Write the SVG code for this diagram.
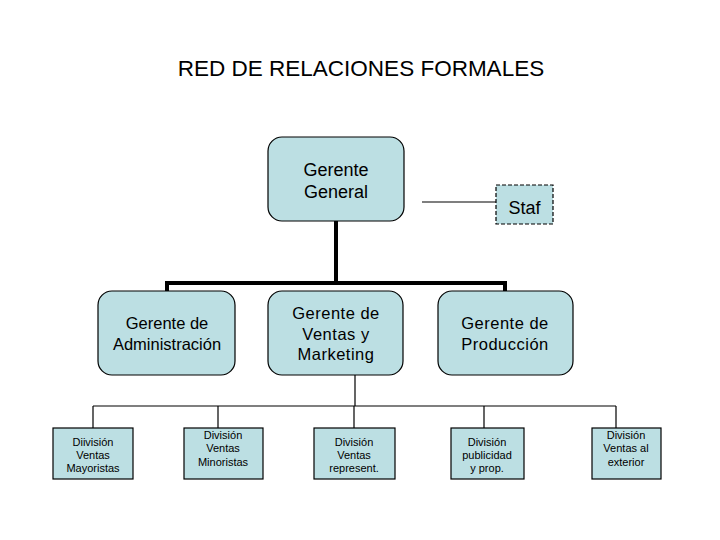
<svg xmlns="http://www.w3.org/2000/svg" width="720" height="540" viewBox="0 0 720 540">
<style>
.rbox{fill:#bcdfe3;stroke:#000;stroke-width:1.2}
.sbox{fill:#bcdfe3;stroke:#000;stroke-width:1.2}
.t{font-family:"Liberation Sans",Arial,sans-serif;fill:#000;text-anchor:middle}
.m{font-size:16.5px}
.s{font-size:11px}
.thick{stroke:#000;stroke-width:4;fill:none}
.thin{stroke:#000;stroke-width:1.2;fill:none}
</style>
<rect width="720" height="540" fill="#fff"/>
<text class="t" x="361" y="76" font-size="22.5">RED DE RELACIONES FORMALES</text>
<g id="connectors">
<path class="thick" d="M336 221 V283 M167 283 H505 M167 281 V291 M505 281 V291"/>
<path class="thin" d="M422 202 H496"/>
<path class="thin" d="M355 375 V406 M93 406 H616 M93 406 V428 M218 406 V428 M354 406 V428 M484 406 V428 M616 406 V428"/>
</g>
<g id="gerente-general">
<rect class="rbox" x="268" y="137" width="136" height="84" rx="14"/>
<text class="t" x="336" y="176" font-size="18">Gerente</text>
<text class="t" x="336" y="198" font-size="18">General</text>
</g>
<g id="staf">
<rect class="rbox" x="496" y="185" width="57" height="39" stroke-dasharray="4,2"/>
<text class="t" x="524.5" y="214" font-size="18">Staf</text>
</g>
<g id="gerente-admin">
<rect class="rbox" x="98" y="291" width="137" height="84" rx="14"/>
<text class="t m" x="167" y="329">Gerente de</text>
<text class="t m" x="167" y="350">Administración</text>
</g>
<g id="gerente-ventas">
<rect class="rbox" x="268" y="291" width="135" height="84" rx="14"/>
<text class="t m" x="336" y="319" letter-spacing="0.5">Gerente de</text>
<text class="t m" x="336" y="340" letter-spacing="0.5">Ventas y</text>
<text class="t m" x="336" y="360" letter-spacing="0.5">Marketing</text>
</g>
<g id="gerente-produccion">
<rect class="rbox" x="438" y="291" width="135" height="84" rx="14"/>
<text class="t m" x="505" y="329" letter-spacing="0.5">Gerente de</text>
<text class="t m" x="505" y="350" letter-spacing="0.5">Producción</text>
</g>
<g id="div-mayoristas">
<rect class="sbox" x="53" y="428" width="80" height="51"/>
<text class="t s" x="93" y="446">Diivisión</text>
<text class="t s" x="93" y="459">Ventas</text>
<text class="t s" x="93" y="472">Mayoristas</text>
</g>
<g id="div-minoristas">
<rect class="sbox" x="184" y="428" width="79" height="51"/>
<text class="t s" x="223" y="439">División</text>
<text class="t s" x="223" y="452">Ventas</text>
<text class="t s" x="223" y="466">Minoristas</text>
</g>
<g id="div-represent">
<rect class="sbox" x="314" y="428" width="81" height="51"/>
<text class="t s" x="354" y="446">División</text>
<text class="t s" x="354" y="459">Ventas</text>
<text class="t s" x="354" y="472">represent.</text>
</g>
<g id="div-publicidad">
<rect class="sbox" x="451" y="428" width="73" height="51"/>
<text class="t s" x="487" y="446">División</text>
<text class="t s" x="487" y="459">publicidad</text>
<text class="t s" x="487" y="472">y prop.</text>
</g>
<g id="div-exterior">
<rect class="sbox" x="592" y="428" width="69" height="51"/>
<text class="t s" x="626" y="439">División</text>
<text class="t s" x="626" y="452">Ventas al</text>
<text class="t s" x="626" y="466">exterior</text>
</g>
</svg>
